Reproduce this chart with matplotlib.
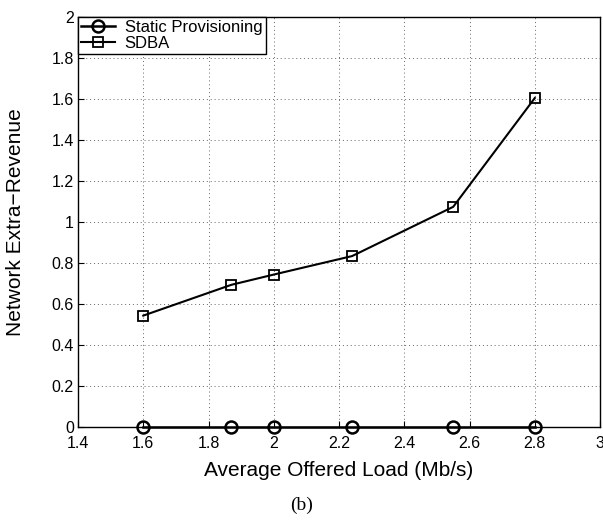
import matplotlib
matplotlib.use("Agg")
import matplotlib.pyplot as plt

plt.rcParams['font.family'] = ['Liberation Sans', 'DejaVu Sans']

load = [1.6, 1.87, 2.0, 2.24, 2.55, 2.8]
static_rev = [0, 0, 0, 0, 0, 0]
sdba_rev = [0.545, 0.695, 0.745, 0.835, 1.075, 1.605]

xticks = [1.4, 1.6, 1.8, 2, 2.2, 2.4, 2.6, 2.8, 3]
xtick_labels = ['1.4', '1.6', '1.8', '2', '2.2', '2.4', '2.6', '2.8', '3']
yticks = [0, 0.2, 0.4, 0.6, 0.8, 1, 1.2, 1.4, 1.6, 1.8, 2]
ytick_labels = ['0', '0.2', '0.4', '0.6', '0.8', '1', '1.2', '1.4', '1.6', '1.8', '2']

fig = plt.figure(figsize=(6.03, 5.21), dpi=100)
ax = fig.add_axes([0.1294, 0.1795, 0.8657, 0.788])

ax.plot(load, static_rev, '-o', color='black', lw=1.8, ms=8.6,
        mfc='none', mew=1.8, label='Static Provisioning', clip_on=False, zorder=3)
ax.plot(load, sdba_rev, '-s', color='black', lw=1.5, ms=7,
        mfc='none', mew=1.3, label='SDBA', clip_on=False, zorder=3)

ax.set_xlim(1.4, 3)
ax.set_ylim(0, 2)
ax.set_xticks(xticks)
ax.set_xticklabels(xtick_labels)
ax.set_yticks(yticks)
ax.set_yticklabels(ytick_labels)
ax.tick_params(direction='in', labelsize=11.5, length=4)
ax.tick_params(axis='x', pad=6)
ax.tick_params(axis='y', pad=3)
ax.grid(True, linestyle=(0, (1, 3)), color='#666666', lw=0.7)
for s in ax.spines.values():
    s.set_linewidth(1.0)

ax.set_xlabel('Average Offered Load (Mb/s)', fontsize=15)
ax.xaxis.set_label_coords(0.5, -0.082)
ax.set_ylabel('Network Extra\u2212Revenue', fontsize=15)
ax.yaxis.set_label_coords(-0.102, 0.5)

leg = ax.legend(loc='upper left', fontsize=12, frameon=True, fancybox=False,
                borderaxespad=0.0, handlelength=2.0, borderpad=0.2,
                labelspacing=0.05, handletextpad=0.6)
leg.get_frame().set_edgecolor('black')
leg.get_frame().set_linewidth(1.0)
leg.get_frame().set_alpha(1)

fig.text(0.5, 0.021, '(b)', ha='center', fontsize=14, family=['Liberation Serif'])

fig.savefig('out.png', dpi=100)
